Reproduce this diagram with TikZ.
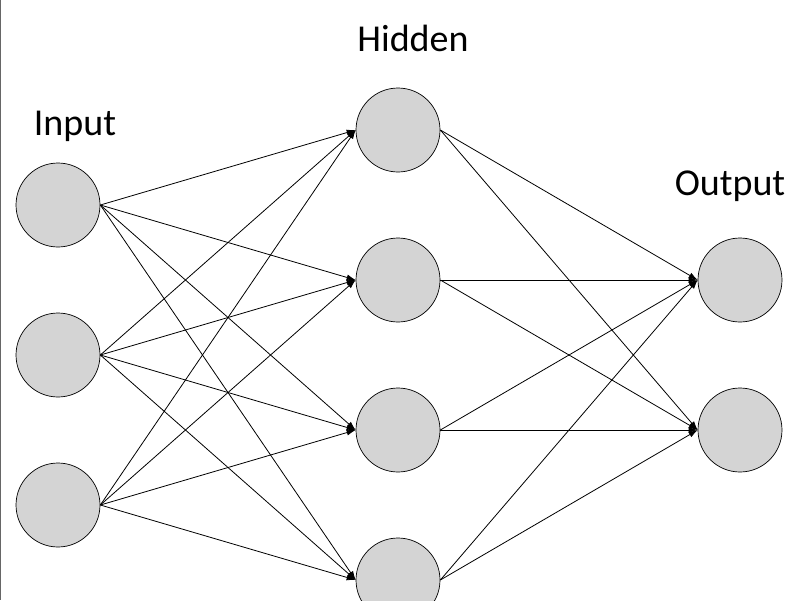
\documentclass[tikz,border=0pt]{standalone}
\usepackage{fontspec}
\setmainfont{Carlito}
\usetikzlibrary{arrows.meta}
\begin{document}
\begin{tikzpicture}[x=1pt,y=-1pt,
  neuron/.style={circle,draw=black,fill=black!17,minimum size=84pt,inner sep=0pt,line width=0.7pt},
  conn/.style={-{Latex[length=9pt,width=6pt]},line width=0.8pt},
  lbl/.style={font=\fontsize{38}{42}\selectfont}]
\useasboundingbox (0,0) rectangle (800,600);
\draw[black!60,line width=1pt] (0.5,0) -- (0.5,600);
\node[neuron] (i1) at (58,205) {};
\node[neuron] (i2) at (58,355) {};
\node[neuron] (i3) at (58,505) {};
\node[neuron] (h1) at (398,130) {};
\node[neuron] (h2) at (398,280) {};
\node[neuron] (h3) at (398,430) {};
\node[neuron] (h4) at (398,580) {};
\node[neuron] (o1) at (740,280) {};
\node[neuron] (o2) at (740,430) {};
\node[lbl] (li) at (75,126) {Input};
\node[lbl] (lh) at (413,38) {Hidden};
\node[lbl] (lo) at (730,186) {Output};
\foreach \i in {i1,i2,i3}\foreach \h in {h1,h2,h3,h4}\draw[conn] (\i.east) -- (\h.west);
\foreach \h in {h1,h2,h3,h4}\foreach \o in {o1,o2}\draw[conn] (\h.east) -- (\o.west);
\end{tikzpicture}
\end{document}
